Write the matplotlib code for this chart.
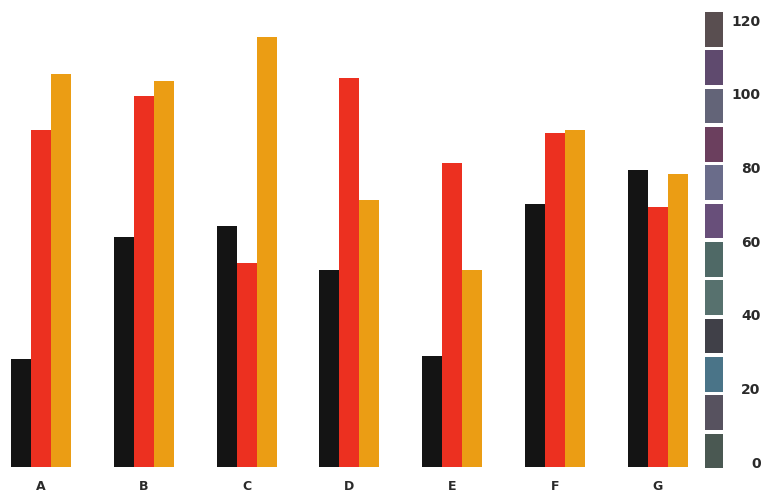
import matplotlib.pyplot as plt
import numpy as np

categories = ["A", "B", "C", "D", "E", "F", "G"]
black_vals = [29, 62, 65, 53, 30, 71, 80]
red_vals = [91, 100, 55, 105, 82, 90, 70]
orange_vals = [106, 104, 116, 72, 53, 91, 79]

scale_ticks = [0, 20, 40, 60, 80, 100, 120]
# colour swatches of the scale, bottom to top
swatch_colors = ["#4a5852", "#57525f", "#4a7488", "#404048", "#57716e", "#4f6966",
                 "#684f7a", "#6a6c8a", "#6b3f5e", "#636478", "#5f4a6e", "#594e50"]

fig = plt.figure(figsize=(7.65, 4.94), dpi=100)
W, H = 765, 494

# main bars
ax = fig.add_axes([0, 27 / H, 700 / W, 463.5 / H])
x = np.arange(len(categories))
w = 0.195
ax.bar(x - w, black_vals, w, color="#141414")
ax.bar(x, red_vals, w, color="#ec3020")
ax.bar(x + w, orange_vals, w, color="#eb9d14")
ax.set_xlim(-41 / 102.8, 659 / 102.8)
ax.set_ylim(0, 125)
ax.set_xticks(x)
ax.set_xticklabels(categories, fontsize=9, fontweight="bold", color="#2a2a2a")
ax.tick_params(axis="x", length=0, pad=9)
ax.set_yticks([])
for s in ax.spines.values():
    s.set_visible(False)

# scale on the right
cax = fig.add_axes([705 / W, 22 / H, 18 / W, 464 / H])
edges = np.linspace(-2.2, 122.7, len(swatch_colors) + 1)
cax.bar(0, np.diff(edges) - 1.0, bottom=edges[:-1] + 0.5, width=1.0,
        color=swatch_colors)
cax.set_xlim(-0.5, 0.5)
cax.set_ylim(-2.7, 123.3)
cax.set_xticks([])
cax.yaxis.tick_right()
cax.set_yticks(scale_ticks)
cax.set_yticklabels([str(t) for t in scale_ticks], fontsize=10,
                    fontweight="bold", color="#2a2a2a", ha="right")
cax.tick_params(axis="y", length=0, pad=27)
for s in cax.spines.values():
    s.set_visible(False)

plt.savefig("out.png", dpi=100)
